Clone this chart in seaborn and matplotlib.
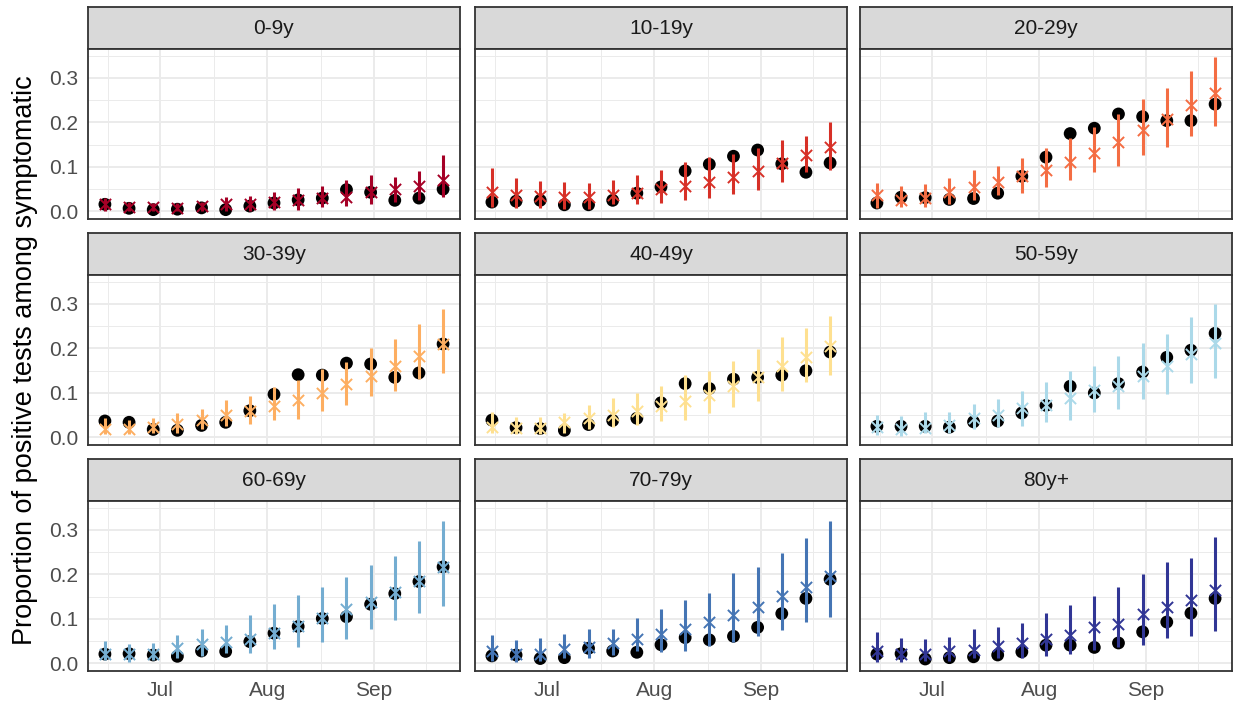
import matplotlib
matplotlib.use("Agg")
import matplotlib.pyplot as plt
import pandas as pd
import seaborn as sns

# ---- data -------------------------------------------------------------
age_groups = ["0-9y", "10-19y", "20-29y", "30-39y", "40-49y",
              "50-59y", "60-69y", "70-79y", "80y+"]
group_colours = ["#A50026", "#D73027", "#F46D43", "#FDAE61", "#FEE090",
                 "#ABD9E9", "#74ADD1", "#4575B4", "#313695"]

week_start = ["2020-06-15", "2020-06-22", "2020-06-29", "2020-07-06",
              "2020-07-13", "2020-07-20", "2020-07-27", "2020-08-03",
              "2020-08-10", "2020-08-17", "2020-08-24", "2020-08-31",
              "2020-09-07", "2020-09-14", "2020-09-21"]

# observed proportion positive (black dots)
observed = [
    [0.016, 0.007, 0.004, 0.005, 0.008, 0.004, 0.012, 0.019, 0.026, 0.030, 0.049, 0.043, 0.025, 0.030, 0.050],
    [0.021, 0.023, 0.025, 0.015, 0.015, 0.025, 0.041, 0.055, 0.091, 0.106, 0.124, 0.138, 0.107, 0.088, 0.109],
    [0.019, 0.032, 0.031, 0.027, 0.029, 0.041, 0.079, 0.122, 0.175, 0.187, 0.219, 0.213, 0.204, 0.204, 0.241],
    [0.037, 0.034, 0.018, 0.016, 0.027, 0.034, 0.060, 0.097, 0.141, 0.140, 0.167, 0.165, 0.135, 0.145, 0.210],
    [0.039, 0.022, 0.020, 0.016, 0.029, 0.038, 0.043, 0.078, 0.121, 0.110, 0.131, 0.135, 0.140, 0.150, 0.192],
    [0.025, 0.025, 0.025, 0.023, 0.035, 0.037, 0.055, 0.072, 0.115, 0.100, 0.121, 0.147, 0.180, 0.196, 0.234],
    [0.021, 0.022, 0.019, 0.016, 0.028, 0.027, 0.049, 0.068, 0.083, 0.101, 0.105, 0.133, 0.157, 0.184, 0.217],
    [0.017, 0.019, 0.011, 0.013, 0.034, 0.028, 0.025, 0.042, 0.058, 0.053, 0.061, 0.081, 0.112, 0.146, 0.189],
    [0.021, 0.022, 0.010, 0.013, 0.015, 0.019, 0.026, 0.041, 0.041, 0.036, 0.046, 0.071, 0.093, 0.113, 0.146],
]

# model estimate (crosses) with lower / upper interval bounds
estimate = [
    [0.016, 0.010, 0.010, 0.008, 0.012, 0.017, 0.017, 0.021, 0.026, 0.031, 0.032, 0.043, 0.051, 0.058, 0.070],
    [0.043, 0.036, 0.034, 0.032, 0.032, 0.036, 0.041, 0.051, 0.058, 0.067, 0.077, 0.090, 0.109, 0.126, 0.145],
    [0.037, 0.026, 0.031, 0.043, 0.055, 0.066, 0.079, 0.094, 0.111, 0.131, 0.157, 0.182, 0.207, 0.240, 0.266],
    [0.019, 0.018, 0.024, 0.031, 0.040, 0.050, 0.060, 0.070, 0.084, 0.100, 0.119, 0.137, 0.160, 0.184, 0.210],
    [0.024, 0.022, 0.022, 0.034, 0.044, 0.051, 0.059, 0.070, 0.081, 0.096, 0.115, 0.135, 0.160, 0.180, 0.206],
    [0.024, 0.019, 0.022, 0.029, 0.044, 0.051, 0.066, 0.072, 0.089, 0.106, 0.115, 0.137, 0.161, 0.188, 0.212],
    [0.022, 0.022, 0.022, 0.034, 0.043, 0.049, 0.056, 0.069, 0.084, 0.101, 0.122, 0.137, 0.161, 0.185, 0.217],
    [0.028, 0.022, 0.022, 0.032, 0.037, 0.045, 0.056, 0.066, 0.078, 0.092, 0.109, 0.127, 0.151, 0.172, 0.196],
    [0.028, 0.022, 0.021, 0.028, 0.030, 0.040, 0.046, 0.056, 0.063, 0.081, 0.088, 0.110, 0.127, 0.143, 0.166],
]
lower = [
    [0.001, 0.000, 0.000, 0.000, 0.000, 0.002, 0.000, 0.004, 0.004, 0.010, 0.012, 0.017, 0.021, 0.025, 0.032],
    [0.010, 0.008, 0.008, 0.006, 0.006, 0.016, 0.017, 0.019, 0.025, 0.031, 0.040, 0.049, 0.066, 0.088, 0.094],
    [0.008, 0.010, 0.010, 0.017, 0.025, 0.036, 0.042, 0.056, 0.070, 0.088, 0.103, 0.127, 0.145, 0.169, 0.193],
    [0.007, 0.007, 0.009, 0.010, 0.018, 0.025, 0.031, 0.039, 0.042, 0.059, 0.072, 0.093, 0.104, 0.131, 0.145],
    [0.009, 0.007, 0.008, 0.010, 0.018, 0.024, 0.029, 0.037, 0.040, 0.055, 0.069, 0.081, 0.104, 0.125, 0.141],
    [0.005, 0.003, 0.009, 0.010, 0.018, 0.024, 0.025, 0.034, 0.039, 0.057, 0.065, 0.087, 0.098, 0.122, 0.134],
    [0.008, 0.004, 0.008, 0.012, 0.017, 0.023, 0.023, 0.032, 0.037, 0.049, 0.056, 0.077, 0.098, 0.114, 0.129],
    [0.006, 0.004, 0.006, 0.012, 0.013, 0.019, 0.027, 0.025, 0.028, 0.040, 0.049, 0.062, 0.075, 0.092, 0.105],
    [0.004, 0.004, 0.006, 0.006, 0.012, 0.013, 0.013, 0.016, 0.021, 0.030, 0.037, 0.042, 0.057, 0.062, 0.073],
]
upper = [
    [0.031, 0.021, 0.020, 0.020, 0.022, 0.032, 0.034, 0.043, 0.053, 0.058, 0.070, 0.081, 0.077, 0.090, 0.127],
    [0.097, 0.075, 0.068, 0.067, 0.064, 0.071, 0.081, 0.094, 0.112, 0.122, 0.130, 0.142, 0.160, 0.169, 0.201],
    [0.064, 0.058, 0.062, 0.075, 0.092, 0.102, 0.120, 0.143, 0.166, 0.190, 0.219, 0.252, 0.278, 0.315, 0.347],
    [0.043, 0.039, 0.044, 0.054, 0.064, 0.083, 0.093, 0.113, 0.128, 0.154, 0.169, 0.201, 0.221, 0.254, 0.289],
    [0.057, 0.046, 0.046, 0.055, 0.072, 0.089, 0.100, 0.116, 0.140, 0.149, 0.172, 0.199, 0.225, 0.247, 0.273],
    [0.051, 0.048, 0.057, 0.057, 0.076, 0.087, 0.105, 0.125, 0.150, 0.160, 0.182, 0.213, 0.233, 0.270, 0.300],
    [0.051, 0.043, 0.046, 0.064, 0.077, 0.086, 0.109, 0.134, 0.154, 0.172, 0.194, 0.222, 0.241, 0.276, 0.319],
    [0.064, 0.052, 0.058, 0.066, 0.078, 0.078, 0.101, 0.122, 0.143, 0.159, 0.203, 0.217, 0.248, 0.281, 0.319],
    [0.071, 0.058, 0.054, 0.060, 0.077, 0.081, 0.091, 0.113, 0.131, 0.151, 0.172, 0.201, 0.228, 0.237, 0.284],
]

y_ticks = [0.0, 0.1, 0.2, 0.3]
y_tick_labels = ["0.0", "0.1", "0.2", "0.3"]
x_tick_dates = ["2020-07-01", "2020-08-01", "2020-09-01"]
x_tick_labels = ["Jul", "Aug", "Sep"]

# ---- long table -------------------------------------------------------
rows = []
for g, grp in enumerate(age_groups):
    for w, wk in enumerate(week_start):
        rows.append({"group": grp, "week": pd.Timestamp(wk),
                     "observed": observed[g][w], "estimate": estimate[g][w],
                     "lower": lower[g][w], "upper": upper[g][w]})
df = pd.DataFrame(rows)

# ---- styling ----------------------------------------------------------
sns.set_theme(style="white")
plt.rcParams["font.family"] = ["Liberation Sans", "DejaVu Sans"]

W, H = 1235, 711
fig = plt.figure(figsize=(W / 100, H / 100), dpi=100)
fig.patch.set_facecolor("white")

col_left = [88, 475, 860]
panel_w = 372
strip_top = [7, 233, 459]
strip_h = 42
panel_h = 170

frame_col = "#333333"
grid_col = "#EBEBEB"

t0, t1 = df["week"].min(), df["week"].max()
pad = (t1 - t0) * 0.05
x_lo, x_hi = t0 - pad, t1 + pad
y_lo, y_hi = -0.017, 0.365

major_x = [pd.Timestamp(d) for d in x_tick_dates]
minor_x = [pd.Timestamp("2020-06-16"), pd.Timestamp("2020-07-16 12:00"),
           pd.Timestamp("2020-08-16 12:00"), pd.Timestamp("2020-09-16")]
minor_y = [0.05, 0.15, 0.25, 0.35]

for g, grp in enumerate(age_groups):
    r, c = divmod(g, 3)
    left = col_left[c]
    top = strip_top[r]
    colour = group_colours[g]

    # facet strip
    sax = fig.add_axes([left / W, 1 - (top + strip_h) / H, panel_w / W, strip_h / H])
    sax.set_facecolor("#D9D9D9")
    sax.set_xticks([]); sax.set_yticks([])
    for sp in sax.spines.values():
        sp.set_color(frame_col); sp.set_linewidth(1.3); sp.set_visible(True)
    sax.text(0.5, 0.5, grp, ha="center", va="center", fontsize=15,
             color="#1A1A1A", transform=sax.transAxes)

    # panel
    ax = fig.add_axes([left / W, 1 - (top + strip_h + panel_h) / H, panel_w / W, panel_h / H])
    ax.set_facecolor("white")
    sub = df[df["group"] == grp]

    sns.scatterplot(data=sub, x="week", y="observed", color="black", s=85,
                    edgecolor="none", ax=ax, zorder=3, legend=False)
    ax.vlines(sub["week"], sub["lower"], sub["upper"], color=colour,
              linewidth=2.2, zorder=4)
    sns.scatterplot(data=sub, x="week", y="estimate", marker="x", color=colour,
                    s=65, linewidth=1.4, ax=ax, zorder=5, legend=False)

    ax.set_xlim(x_lo, x_hi)
    ax.set_ylim(y_lo, y_hi)
    ax.set_xticks(major_x)
    ax.set_xticks(minor_x, minor=True)
    ax.set_yticks(y_ticks)
    ax.set_yticks(minor_y, minor=True)
    ax.grid(which="major", color=grid_col, linewidth=1.4)
    ax.grid(which="minor", color=grid_col, linewidth=0.7)
    ax.set_axisbelow(True)
    ax.set_xlabel("")
    ax.set_ylabel("")
    for sp in ax.spines.values():
        sp.set_color(frame_col); sp.set_linewidth(1.3); sp.set_visible(True)

    ax.tick_params(which="minor", length=0)
    ax.tick_params(which="major", length=5, width=1.1, color=frame_col,
                   labelsize=15, labelcolor="#4D4D4D", pad=2)
    if c == 0:
        ax.set_yticklabels(y_tick_labels)
    else:
        ax.tick_params(axis="y", which="major", length=0, labelleft=False)
    if r == 2:
        ax.set_xticklabels(x_tick_labels)
    else:
        ax.tick_params(axis="x", which="major", length=0, labelbottom=False)

fig.text(25 / W, 1 - 360 / H, "Proportion of positive tests among symptomatic",
         rotation=90, ha="center", va="center", fontsize=19.5, color="black")

fig.savefig("out.png", dpi=100, facecolor="white")
